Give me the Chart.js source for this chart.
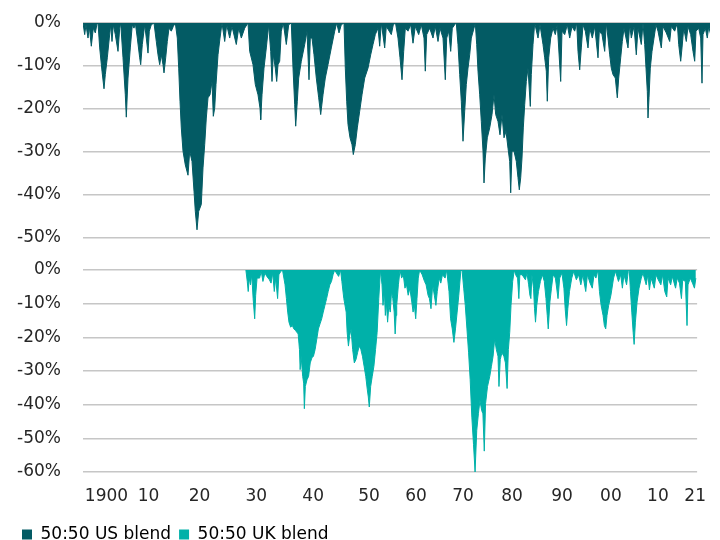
<!DOCTYPE html>
<html>
<head>
<meta charset="utf-8">
<script src="https://cdn.jsdelivr.net/npm/chart.js@4.4.1/dist/chart.umd.min.js"></script>
<style>
    html, body { margin: 0; padding: 0; background: #fff; overflow: hidden; }
    #topWrap { position: absolute; left: 0; top: 0; }
    #bottomWrap { position: absolute; left: 0; top: 255px; }
</style>
</head>
<body>
<div id="topWrap"><canvas id="usCanvas" width="720" height="250"></canvas></div>
<div id="bottomWrap"><canvas id="ukCanvas" width="720" height="298"></canvas></div>
<script>
// x = observation number along the series (the axis is not evenly spaced in years)
const tickObs = [24, 67, 119, 177, 235, 292, 340, 388, 438, 489, 539, 587, 625];
const tickLabels = ['1900', '10', '20', '30', '40', '50', '60', '70', '80', '90', '00', '10', '21'];

// 50:50 US blend, drawdown in %
const usObs = [0, 1.7, 3, 5, 6.3, 8.3, 10.3, 12.3, 14, 15, 16.7, 19, 21, 22.3, 24.3, 26.3, 27.7, 29, 30.3, 32.3, 35, 36.7,
    37.7, 40, 42.3, 43.3, 45, 47.3, 49.3, 51, 52.3, 54.3, 56.7, 57.7, 59.3, 61.7, 63.3, 65, 66.3, 68.3,
    71, 73.3, 75, 76.7, 78.3, 80, 81, 82.7, 84.3, 86, 88.3, 90.3,
    92.3, 94.3, 95.7, 97, 98.3, 100, 102.3, 105, 106.7, 109, 111, 112.3, 114, 115.7, 118.3, 120, 121.7, 123.3, 125, 127, 129, 130.3, 131.7, 133, 135, 137, 139,
    141.7, 143.7, 146.7, 149, 153.3, 155.7, 158.3, 161.7,
    165, 166.7, 170, 172.3, 175, 177, 177.7, 179, 181, 183.3, 185.7, 187.7, 189, 190.3, 192.3, 193.7, 195, 196.7, 198.3, 200.3, 203.3, 205.7,
    208.3, 210, 211.7, 212.7, 214.3, 215.7, 218.3, 221.7, 224, 226, 227.3,
    229, 231, 233.3, 235.7, 237.7, 240, 242.3, 245, 248.3, 251.7, 253.7, 256, 258.3,
    261, 262.3, 263.7, 265, 267, 269, 270.3, 272.3, 274.3, 276.7, 279, 281.7, 285, 287.7, 290, 292.3, 295, 296.7, 298.3,
    301.7, 303.3, 308.3, 310.3, 312.5, 315, 317, 319, 320.7, 322.3, 325, 327.7, 330, 332.3, 335.7, 338.3, 341, 342.3, 343.7,
    346.7, 350, 352.3, 355, 357, 360, 362.3, 363.7, 365.7, 367.7, 369.3, 371.7,
    373.3, 375, 376.7, 378.3, 380, 381.7, 383.3, 385, 386.7, 388.3, 391,
    392.3, 393.7, 395, 396.7, 398.3, 400, 401, 402.3, 404.3, 406.7, 409, 411, 412.7, 415, 417, 419, 421, 423, 425, 426.7, 427.7,
    429, 431, 433.3, 435, 436.3, 437.7, 439, 440.3, 441.7, 443.3, 445, 447.3, 448.3, 450, 451.7,
    455, 457, 460, 461.7, 463.3, 464.3, 465.7, 467.7, 470, 472.3, 474.3, 477.7, 479, 481.7, 484.3, 486.7, 489, 491.7,
    493.7, 495, 496.7, 498.3, 500, 502.3, 505, 506.7, 509.3, 511.7, 515, 516.3, 519, 521.7,
    523.3, 525, 526.7, 528.3, 530, 532.3, 534.3, 535.7, 537.7, 539.3, 541, 545, 546.7, 548.3, 551, 553.3, 555, 558.3,
    560, 561.7, 563, 564.3, 565, 566, 567.3, 569, 571, 573, 575, 578.3, 580, 583.3, 586.7, 588.3, 591.7,
    594.3, 595.7, 597.7, 599, 600.7, 603.3, 605, 607.7, 610, 611.7, 613, 615.7, 617.7, 619, 620, 622.3, 624.3, 625.7, 627.7];
const usDrawdown = [0, -2.7, -0.4, -3.5, -0.8, -5.4, -1.2, -2.3, -0.2, 0, -5.8, -11.2, -15.3, -12, -8.1, -3.5, -0.4, -4.3, -0.4, -2.7, -6.6, -1.2,
    0, -8.1, -16.7, -21.9, -12.8, -5.8, -0.4, -1.2, 0, -3.5, -8.1, -9.7, -5, -0.4, -3.5, -7, -1.9, -0.4,
    0, -4.3, -7.4, -9.7, -7.4, -9.7, -11.6, -8.1, -4.3, -1.2, -1.9, -0.8,
    0, -3.5, -10.5, -18.2, -24.4, -29.8, -33, -35.4, -29.8, -32.2, -39.1, -43.8, -48.1, -43.8, -42.2, -33.7, -28.3, -22.1, -17.4, -16.7, -13.6, -21.7, -19.8, -14.3, -7.4, -3.5, 0,
    -4.3, -0.4, -3.5, -0.8, -5, -1.2, -3.5, -1.2,
    0, -6.6, -9.7, -14.3, -16.7, -19.8, -22.5, -16.7, -10.5, -5.8, -0.4, -6.6, -13.6, -7.4, -10.5, -13.6, -9.7, -8.9, -1.9, 0, -5, -0.4,
    0, -10.5, -19, -24, -18.2, -12.8, -8.9, -5, -1.9, -13.2, -3.5,
    -3.5, -7.4, -12.8, -17.4, -21.3, -16.7, -12.8, -9.7, -5.8, -1.9, 0, -2.3, -0.4,
    0, -10.5, -18.2, -23.6, -26.7, -28.3, -30.6, -28.3, -24.4, -20.5, -16.7, -12.8, -10.5, -7.4, -5, -2.7, -1.2, -5.4, 0,
    -5.8, -0.8, -2.7, -0.4, 0, -3.5, -8.1, -13.2, -6.6, -1.2, -1.9, -0.4, -4.7, -0.8, -2.7, -0.4, -3.5, -11.2, -2.7,
    -1.2, -3.5, -0.8, -4.3, -1.2, -3.5, -13.2, -3.5, -1.9, -6.6, -1.2, -0.4,
    0, -5, -12, -18.2, -27.5, -20.5, -14.3, -10.5, -7.4, -3.5, -1.2,
    0, -5, -11.2, -16.7, -22.9, -29.8, -37.2, -31.4, -26.7, -24.4, -21.3, -16.7, -21.3, -22.9, -26, -21.3, -26.7, -25.2, -29.1, -32.2, -39.5,
    -29.8, -29.8, -32.2, -36, -38.8, -36, -31.4, -24.4, -19, -13.6, -10.5, -19.4, -12, -5, 0,
    -3.5, -0.4, -5, -8.1, -11.2, -18.2, -8.1, -3.5, -1.2, -2.7, -0.4, -13.6, -1.9, -2.7, -0.4, -3.5, -0.8, -1.9,
    0, -6.6, -10.9, -5.8, -0.4, -1.9, -5.8, -1.2, -3.5, -0.8, -8.1, -1.9, -2.7, -6.6,
    0, -3.5, -7.4, -10.5, -12, -12.8, -17.4, -12.8, -8.1, -4.3, -1.2, -5.8, -0.4, -3.5, -0.8, -7.4, -1.2, -5,
    0, -5, -10.5, -15.9, -22.1, -17.4, -10.5, -6.6, -3.5, -0.4, -1.9, -5.8, -0.8, -2.3, -4.3, -0.8, -1.9,
    0, -5, -8.9, -5.8, -1.2, -4.3, -0.8, -2.7, -6.6, -8.9, -1.9, -1.2, -3.5, -14, -2.7, -1.2, -3.5, -0.8, -2.7];

// 50:50 UK blend, drawdown in %
const ukObs = [166.3, 167.7, 168.7, 169.7, 171, 172.3, 173.7, 175.3, 176.3, 177.7, 180.3, 182, 183.7, 185.7, 187.7, 190.3, 192, 193.7, 195.3, 196.7, 198.7, 200, 202,
    203.7, 206.3, 207.7, 209, 210.3, 212, 213.7, 215.3, 217, 219.7, 221, 221.7, 222.7, 224.3, 225.3, 226, 227, 228.7, 230.3, 232, 233.7, 235.3, 237, 238.7,
    240.3, 242, 243.7, 245.3, 247, 248.7, 250.3, 252, 253.7, 255.3, 257, 258.7, 261,
    263, 264.3, 266.3, 268.7, 269.7, 271, 272.3, 273.7, 275.3, 277, 278.7, 280.3, 282, 283.7, 285.3, 287, 288.7, 290.3, 291.3, 292.3,
    293.7, 295.3, 297, 298.7, 300.3, 302, 303.7, 305.3, 306.3, 307.7, 308.7, 309.7, 311, 312.3, 313.7, 315, 316.3, 317.7, 318.7, 319.7, 320.3, 322,
    323.7, 325.3, 327, 328.7, 330.3, 332, 333.7, 335.7, 337, 338.3, 339.7, 341, 342.3, 343.7, 346.3, 348.7, 350.3, 352.3, 353.7, 355.3, 357,
    358.7, 360.3, 361.7, 363.7, 365.3, 367, 369.7, 371.3, 373.7, 375.3, 377, 378.7, 380.3, 382, 383.7, 385.7,
    387, 388.7, 390.3, 392, 393.7, 395.3, 397, 398.7, 400.3, 402, 403.7, 405.3, 407, 408.3, 409.7, 411, 413, 415.3, 417, 418.7, 420.3,
    422, 423.7, 424.7, 426, 427.7, 429.7, 431.3, 433, 434.3, 435.7, 437, 438.7, 440.3,
    441.7, 443.7, 445, 446, 448.3, 451.7, 453.3, 455, 456.3, 457.3, 458.3, 460, 461, 462, 463.3, 465, 467, 469,
    471, 472.7, 474, 475, 476.7, 478.3, 480, 482.3, 485, 486.7, 489, 491, 492.3, 493.7, 495, 496.7, 499, 501,
    503.7, 506, 508.3, 510.3, 513.3, 515, 517.7, 520, 521.7, 523.7, 525.7, 527.3, 529, 531, 532.3, 533.7, 535, 536.7, 539, 541.7, 543.7,
    546.7, 549, 550.7, 552.3, 555, 556.7, 557.7, 559, 560.3, 561.7, 562.7, 564, 565.7, 567.7, 570, 571.7,
    575, 576.7, 578.3, 580, 583.3, 585, 587.3, 590, 591.7, 594, 596, 597.3, 600, 601.7, 605, 606.7, 609, 611, 612.3,
    615, 616.7, 617.7, 620, 622.3, 624.3, 625.7];
const ukDrawdown = [0, -3.4, -6.4, -2.4, -4.4, -1.4, -8.5, -14.5, -7.5, -2.4, -2.4, -0.4, -3.4, -0.9, -1.9, -2.9, -3.9, -0.9, -6.4, -2.4, -8.5, -1.4, -0.4,
    0, -4.4, -8.5, -12.5, -15.5, -17, -16.5, -17.5, -18, -19, -23.6, -29.6, -25.6, -31.6, -33.6, -41.2, -34.6, -32.6, -31.6, -27.6, -26.1, -25.6, -23.6, -20.5,
    -17.5, -16, -14.5, -12.5, -10.5, -8.5, -6.4, -4.4, -3.4, -1.4, 0, -0.9, -1.9,
    0, -3.4, -8.5, -12.5, -18.5, -22.6, -19.5, -17.5, -23.6, -27.6, -26.6, -24.6, -22.6, -23.6, -25.6, -28.6, -31.6, -35.6, -37.7, -40.7,
    -34.6, -31.6, -28.6, -23.6, -18.5, -8.5, 0, -4.4, -10.5, -6.4, -13.5, -9.5, -15.5, -10.5, -12.5, -6.4, -8.5, -12.5, -19, -13.5, -10.5, -4.4,
    0, -2.4, -1.4, -5.4, -4.4, -7.5, -5.4, -9.5, -12.5, -10.5, -14.5, -8.5, -2.4, 0, -1.4, -3.4, -4.4, -7.5, -8.5, -11.5, -4.4,
    -7.5, -10.5, -6.4, -2.4, -3.9, -1.4, -2.4, 0, -6.4, -14.5, -17.5, -21.5, -17.5, -12.5, -7.5, -0.4,
    0, -5.4, -10.5, -17.5, -24.6, -32.6, -43.7, -51.8, -60, -47.7, -42.7, -38.7, -41.7, -42.7, -53.8, -39.7, -34.6, -31.6, -28.6, -25.6, -20.5,
    -23.6, -25.6, -34.6, -26.6, -24.6, -25.6, -27.6, -35.2, -23.6, -18.5, -10.5, -3.4, 0,
    -1.4, -2.4, -8.5, -1.4, -1.4, -2.9, -0.9, -4.4, -7.5, -8.5, -1.4, -5.4, -11.5, -15.5, -10.5, -6.4, -3.4, -1.4,
    -3.4, -8.5, -13.5, -17.5, -9.5, -5.4, -1.4, -2.4, -8.5, -2.4, -0.9, -5.4, -11.5, -16.5, -11.5, -6.4, -2.4, -0.4,
    -2.9, -1.4, -4.4, -1.4, -6.4, -1.4, -3.9, -5.4, -1.4, -2.4, 0, -6.4, -10.5, -13.5, -16.5, -17.5, -13.5, -10.5, -7.5, -2.4, -0.4,
    -3.4, -1.4, -5.4, -1.4, -4.4, -0.4, 0, -6.4, -12.5, -18.5, -22.1, -15.5, -9.5, -5.4, -2.4, -0.9,
    -4.4, -1.4, -5.9, -2.4, -5.4, -1.4, -2.9, -4.4, -1.4, -6.4, -8, -2.4, -4.4, -1.9, -5.4, -2.4, -3.9, -8.5, -2.9,
    -3.4, -16.5, -4.4, -2.4, -3.9, -5.4, -2.4];

const US_COLOR = '#035b64';
const UK_COLOR = '#00b1a9';
const TEXT_COLOR = '#262626';
const GRID_COLOR = '#c6c6c6';
const FONT = { family: 'DejaVu Sans', size: 17 };

function toPoints(xs, ys) {
    return xs.map((x, i) => ({ x: x, y: ys[i] }));
}

function yAxis(min, width) {
    return {
        min: min,
        max: 0,
        ticks: {
            stepSize: 10,
            color: TEXT_COLOR,
            font: FONT,
            padding: 0,
            callback: v => v + '%'
        },
        // invisible tick marks give the gap between labels and plot
        grid: { color: GRID_COLOR, lineWidth: 1.5, drawTicks: true, tickLength: 22, tickColor: 'rgba(0,0,0,0)' },
        border: { display: false },
        afterFit: scale => { scale.width = width; }
    };
}

function areaDataset(label, points, color) {
    return {
        label: label,
        data: points,
        fill: 'origin',
        backgroundColor: color,
        borderColor: color,
        borderWidth: 1,
        pointRadius: 0,
        tension: 0
    };
}

function wideContext(id) {
    const ctx = document.getElementById(id).getContext('2d');
    ctx.letterSpacing = '0.8px';
    return ctx;
}

function initUsChart() {
    const ctx = wideContext('usCanvas');
    new Chart(ctx, {
        type: 'line',
        data: { datasets: [areaDataset('50:50 US blend', toPoints(usObs, usDrawdown), US_COLOR)] },
        options: {
            responsive: false,
            animation: false,
            devicePixelRatio: 1,
            layout: { padding: { left: 0, right: 10, top: 23, bottom: 12 } },
            scales: {
                x: { type: 'linear', min: 0, max: 627, display: false },
                y: yAxis(-50, 83)
            },
            plugins: { legend: { display: false }, tooltip: { enabled: false } }
        }
    });
}

function initUkChart() {
    const ctx = wideContext('ukCanvas');
    new Chart(ctx, {
        type: 'line',
        data: { datasets: [areaDataset('50:50 UK blend', toPoints(ukObs, ukDrawdown), UK_COLOR)] },
        options: {
            responsive: false,
            animation: false,
            devicePixelRatio: 1,
            layout: { padding: { left: 14, right: 10, top: 15, bottom: 0 } },
            scales: {
                x: {
                    type: 'linear',
                    min: 0,
                    max: 627,
                    afterBuildTicks: scale => {
                        scale.ticks = tickObs.map(v => ({ value: v }));
                    },
                    ticks: {
                        autoSkip: false,
                        maxRotation: 0,
                        color: TEXT_COLOR,
                        font: FONT,
                        padding: 14,
                        callback: (v, i) => tickLabels[i]
                    },
                    grid: { display: false, drawTicks: false },
                    border: { display: false },
                    afterFit: scale => { scale.height = 46; }
                },
                y: yAxis(-60, 69)
            },
            plugins: {
                tooltip: { enabled: false },
                legend: {
                    position: 'bottom',
                    align: 'start',
                    labels: {
                        boxWidth: 10,
                        boxHeight: 10,
                        padding: 8,
                        color: TEXT_COLOR,
                        font: FONT,
                        // one legend for both panels
                        generateLabels: () => [
                            { text: '50:50 US blend', fillStyle: US_COLOR, strokeStyle: US_COLOR, lineWidth: 0, hidden: false, datasetIndex: 0 },
                            { text: '50:50 UK blend', fillStyle: UK_COLOR, strokeStyle: UK_COLOR, lineWidth: 0, hidden: false, datasetIndex: 0 }
                        ]
                    }
                }
            }
        }
    });
}

document.addEventListener('DOMContentLoaded', function() {
    initUsChart();
    initUkChart();
});
</script>
</body>
</html>
